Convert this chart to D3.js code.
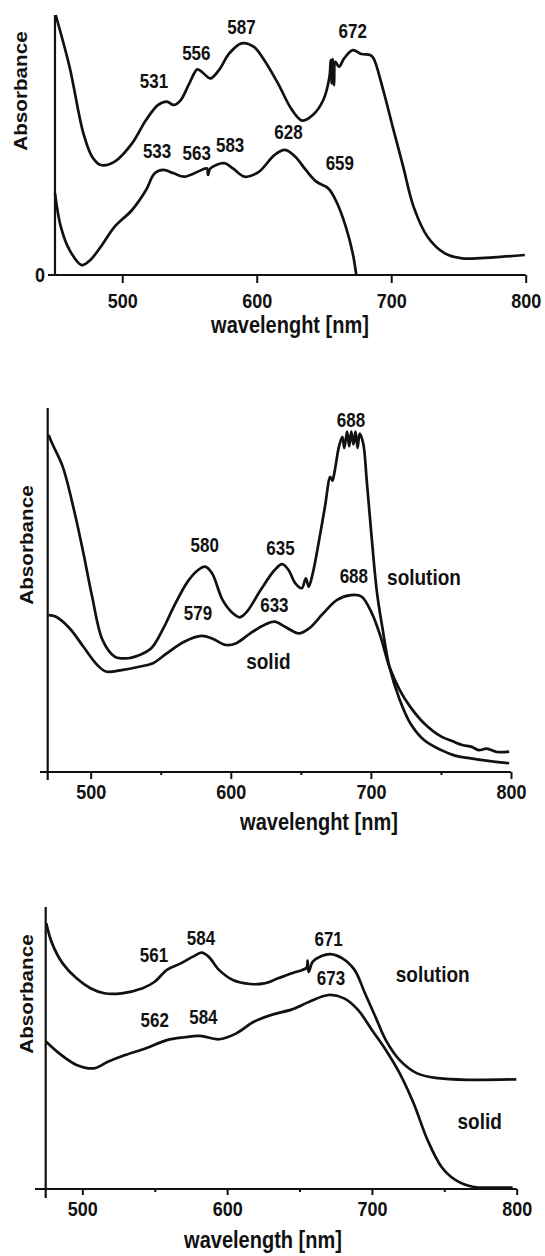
<!DOCTYPE html>
<html>
<head>
<meta charset="utf-8">
<script src="https://cdn.jsdelivr.net/npm/d3@7"></script>
<style>
  body { margin: 0; background: #fff; }
  svg { display: block; }
  text { font-family: "Liberation Sans", Arial, sans-serif; font-weight: bold; fill: #111; }
  .st { transform-box: fill-box; transform-origin: center; transform: scaleY(1.15); }
</style>
</head>
<body>
<svg id="chart" width="545" height="1256"></svg>
<script>
// ---- data (wavelength in nm, absorbance in arbitrary units 0..1 of the axis height) ----
const majorTicks = [500, 600, 700, 800];
const minorTicks = [550, 650, 750];

// panel 1
const p1UpperWl  = [450.5, 460.8, 471.1, 477.6, 484.1, 494.4, 507.3, 517.7, 526.7, 533.1, 538.3, 543.5, 549.9, 555.9, 560.3, 565.5, 571.9, 579.7, 588.7, 597.7, 605.5, 615.8, 626.2, 633.9, 641.7, 649.5, 654.1, 655, 655.8, 656.5, 657.5, 658.5, 661.1, 665, 671.4, 677.9, 684.3, 686.9, 693.4, 701.1, 708.9, 716.6, 727, 739.9, 752.8, 776.1, 799.3];
const p1UpperAbs = [1.0, 0.801, 0.545, 0.455, 0.423, 0.436, 0.506, 0.596, 0.654, 0.667, 0.654, 0.673, 0.737, 0.791, 0.776, 0.756, 0.788, 0.853, 0.891, 0.878, 0.827, 0.737, 0.635, 0.594, 0.615, 0.673, 0.763, 0.827, 0.737, 0.83, 0.73, 0.82, 0.801, 0.833, 0.865, 0.85, 0.846, 0.833, 0.724, 0.570, 0.417, 0.263, 0.147, 0.083, 0.064, 0.068, 0.077];
const p1LowerWl  = [450, 454.3, 460.8, 469.9, 476.3, 484.1, 494.4, 507.3, 517.7, 524.1, 530.6, 538.3, 546.1, 559, 563, 563.8, 565.5, 575.8, 582.3, 591.3, 601.6, 613.3, 621, 628.7, 636.5, 644.3, 653.3, 659.8, 666.2, 671.4, 674];
const p1LowerAbs = [0.314, 0.186, 0.096, 0.038, 0.058, 0.109, 0.186, 0.25, 0.327, 0.391, 0.404, 0.391, 0.378, 0.404, 0.41, 0.385, 0.41, 0.43, 0.41, 0.378, 0.397, 0.462, 0.481, 0.455, 0.404, 0.359, 0.333, 0.276, 0.186, 0.083, 0.0];
const p1Labels   = ['587', '672', '556', '531', '628', '533', '563', '583', '659'];
const p1LabelWl  = [588.7, 671.4, 555.1, 523.6, 623.6, 525.9, 555.4, 580.2, 661.8];
const p1LabelAbs = [0.955, 0.936, 0.853, 0.747, 0.551, 0.478, 0.470, 0.500, 0.430];

// panel 2
const p2SolutionWl  = [470, 472.4, 480, 488.6, 494.8, 501, 508.4, 517.1, 524.6, 534.5, 543.2, 551.9, 559.3, 569.2, 576.7, 581.7, 586.6, 594.1, 601.5, 606.4, 611.4, 621.3, 631.3, 636.7, 641.2, 646.1, 650.6, 653.6, 655.6, 658.5, 662.2, 667.2, 671, 672.5, 673.9, 677.2, 679.6, 681, 683, 684.5, 686, 687.5, 689, 690.5, 692, 694.5, 697, 700.7, 704.4, 708.1, 713.2, 720.6, 728.1, 737.9, 750.3, 760, 770.2, 785, 798.7];
const p2SolutionAbs = [0.926, 0.903, 0.839, 0.711, 0.601, 0.482, 0.363, 0.317, 0.312, 0.321, 0.340, 0.395, 0.454, 0.523, 0.555, 0.564, 0.546, 0.473, 0.436, 0.425, 0.440, 0.5, 0.555, 0.571, 0.555, 0.518, 0.505, 0.532, 0.509, 0.546, 0.619, 0.729, 0.811, 0.80, 0.821, 0.894, 0.921, 0.89, 0.935, 0.895, 0.935, 0.90, 0.935, 0.89, 0.93, 0.903, 0.802, 0.637, 0.491, 0.399, 0.289, 0.198, 0.134, 0.088, 0.060, 0.045, 0.038, 0.03, 0.024];
const p2SolidWl  = [470, 474.9, 484.9, 494.8, 504.7, 510.9, 522.1, 534.5, 544.4, 554.3, 566.7, 579.2, 586.6, 596.5, 604, 613.9, 623.8, 631.3, 638.7, 648.6, 656, 666, 675.9, 685.8, 693.3, 700.7, 706.9, 713.2, 720.6, 728.1, 737.9, 750.3, 758, 765.2, 772, 777, 782.6, 790, 798.7];
const p2SolidAbs = [0.431, 0.427, 0.395, 0.344, 0.294, 0.276, 0.280, 0.289, 0.299, 0.326, 0.358, 0.374, 0.367, 0.349, 0.354, 0.381, 0.404, 0.413, 0.399, 0.381, 0.395, 0.436, 0.473, 0.486, 0.482, 0.436, 0.372, 0.289, 0.225, 0.179, 0.134, 0.097, 0.085, 0.074, 0.069, 0.060, 0.064, 0.055, 0.056];
const p2Labels   = ['688', '580', '635', '688', 'solution', '579', '633', 'solid'];
const p2LabelWl  = [685.8, 581.4, 635.5, 687.8, 737.9, 576.6, 631.1, 626.8];
const p2LabelAbs = [0.967, 0.624, 0.615, 0.537, 0.535, 0.436, 0.459, 0.303];

// panel 3
const p3SolutionWl  = [475.1, 479.1, 486.4, 496, 505.6, 515.2, 527.2, 541.6, 550, 558.4, 568, 576.4, 582.4, 587.2, 594.4, 604, 616, 625.6, 635.2, 644.8, 652, 655, 655.6, 656.3, 659.2, 665.2, 671.2, 679.6, 688, 695.2, 702.4, 709.6, 719.2, 731.2, 745.6, 767.2, 799.7];
const p3SolutionAbs = [0.942, 0.871, 0.800, 0.747, 0.712, 0.694, 0.694, 0.712, 0.735, 0.777, 0.800, 0.824, 0.838, 0.824, 0.777, 0.741, 0.727, 0.729, 0.747, 0.765, 0.777, 0.785, 0.810, 0.770, 0.806, 0.826, 0.833, 0.818, 0.777, 0.694, 0.611, 0.528, 0.457, 0.410, 0.393, 0.387, 0.389];
const p3SolidWl  = [475.1, 484, 496, 508, 517.6, 529.6, 544, 558.4, 570.4, 581.2, 594.4, 606.4, 618.4, 630.4, 644.8, 656.8, 670, 680.8, 690.4, 700, 709.6, 719.2, 728.8, 738.4, 748, 757.6, 769.6, 784, 797.2];
const p3SolidAbs = [0.522, 0.481, 0.440, 0.428, 0.451, 0.475, 0.499, 0.528, 0.538, 0.543, 0.531, 0.552, 0.593, 0.617, 0.637, 0.664, 0.688, 0.676, 0.635, 0.564, 0.493, 0.410, 0.304, 0.174, 0.079, 0.032, 0.008, 0.005, 0.005];
const p3Labels   = ['561', '584', '671', '673', 'solution', '562', '584', 'solid'];
const p3LabelWl  = [549.5, 581.9, 670.1, 671.7, 742, 550, 583.6, 774.4];
const p3LabelAbs = [0.830, 0.891, 0.885, 0.747, 0.762, 0.597, 0.609, 0.239];

// ---- layout of the three panels ----
const panels = [
  { xDomain: [450, 800], xRange: [55, 525.7], yRange: [275, 15], axisStart: 48, yAxisEnd: 275,
    tick: 8, minor: 0, tickLabelY: 26, zeroLabel: true,
    title: 'wavelenght [nm]', titlePos: [290, 325], yLabelPos: [21, 91],
    series: [[p1UpperWl, p1UpperAbs], [p1LowerWl, p1LowerAbs]],
    labels: [p1Labels, p1LabelWl, p1LabelAbs] },
  { xDomain: [469.3, 800], xRange: [47.7, 511], yRange: [772, 408], axisStart: 40, yAxisEnd: 780,
    tick: 7, minor: 3, tickLabelY: 20, zeroLabel: false,
    title: 'wavelenght [nm]', titlePos: [319, 822], yLabelPos: [27, 545],
    series: [[p2SolutionWl, p2SolutionAbs], [p2SolidWl, p2SolidAbs]],
    labels: [p2Labels, p2LabelWl, p2LabelAbs] },
  { xDomain: [474.7, 800], xRange: [45.7, 516.7], yRange: [1189, 907], axisStart: 35, yAxisEnd: 1198,
    tick: 6, minor: 3, tickLabelY: 20, zeroLabel: false,
    title: 'wavelength [nm]', titlePos: [263, 1240], yLabelPos: [27, 994],
    series: [[p3SolutionWl, p3SolutionAbs], [p3SolidWl, p3SolidAbs]],
    labels: [p3Labels, p3LabelWl, p3LabelAbs] }
];

const svg = d3.select('#chart');
svg.append('rect').attr('width', 545).attr('height', 1256).attr('fill', '#fff');

// text that is a little taller than wide, as in the scanned figure
function label(parent, px, py, txt, size, rotate) {
  const g = parent.append('g').attr('transform', `translate(${px},${py}) scale(1,1.15)`);
  return g.append('text')
    .attr('transform', rotate ? 'rotate(-90)' : null)
    .attr('text-anchor', 'middle')
    .attr('dy', '0.35em')
    .style('font-size', size + 'px')
    .text(txt);
}

function drawPanel(p) {
  const x = d3.scaleLinear().domain(p.xDomain).range(p.xRange);
  const y = d3.scaleLinear().domain([0, 1]).range(p.yRange);
  const g = svg.append('g');

  // curves
  const line = d3.line()
    .x(d => x(d[0]))
    .y(d => y(d[1]))
    .curve(d3.curveCatmullRom.alpha(0.5));
  p.series.forEach(([wl, ab]) => {
    g.append('path')
      .datum(d3.zip(wl, ab))
      .attr('d', line)
      .attr('fill', 'none')
      .attr('stroke', '#111')
      .attr('stroke-width', 2.7)
      .attr('stroke-linejoin', 'round');
  });

  // x axis
  const xAxis = g.append('g')
    .attr('transform', `translate(0,${y(0)})`)
    .call(d3.axisBottom(x).tickValues(majorTicks).tickSize(p.tick).tickSizeOuter(0).tickFormat(d3.format('d')));
  xAxis.select('.domain').remove();
  xAxis.selectAll('.tick line').attr('stroke', '#111').attr('stroke-width', 2);
  xAxis.selectAll('.tick text')
    .attr('class', 'st')
    .attr('y', p.tickLabelY)
    .attr('dy', '0.35em')
    .style('font-size', '18px');
  if (p.minor) {
    const mAxis = g.append('g')
      .attr('transform', `translate(0,${y(0)})`)
      .call(d3.axisBottom(x).tickValues(minorTicks).tickSize(p.minor).tickSizeOuter(0).tickFormat(''));
    mAxis.select('.domain').remove();
    mAxis.selectAll('.tick line').attr('stroke', '#111').attr('stroke-width', 2);
  }
  g.append('line')
    .attr('x1', p.axisStart).attr('x2', x(800))
    .attr('y1', y(0)).attr('y2', y(0))
    .attr('stroke', '#111').attr('stroke-width', 2.2);

  // y axis
  const yAxis = g.append('g')
    .attr('transform', `translate(${x(p.xDomain[0])},0)`)
    .call(d3.axisLeft(y).tickValues(p.zeroLabel ? [0] : []).tickSize(0).tickPadding(10).tickFormat(d3.format('d')));
  yAxis.select('.domain').remove();
  yAxis.selectAll('.tick text').attr('class', 'st').style('font-size', '18px');
  g.append('line')
    .attr('x1', x(p.xDomain[0])).attr('x2', x(p.xDomain[0]))
    .attr('y1', y(1)).attr('y2', p.yAxisEnd)
    .attr('stroke', '#111').attr('stroke-width', 2.2);

  // axis titles
  label(g, p.titlePos[0], p.titlePos[1], p.title, 20, false);
  label(g, p.yLabelPos[0], p.yLabelPos[1], 'Absorbance', 18, true);

  // peak annotations
  const [txt, wl, ab] = p.labels;
  txt.forEach((t, i) => {
    const isWord = isNaN(+t);
    label(g, x(wl[i]), y(ab[i]), t, isWord ? 19 : 17, false);
  });
}

panels.forEach(drawPanel);
</script>
</body>
</html>
